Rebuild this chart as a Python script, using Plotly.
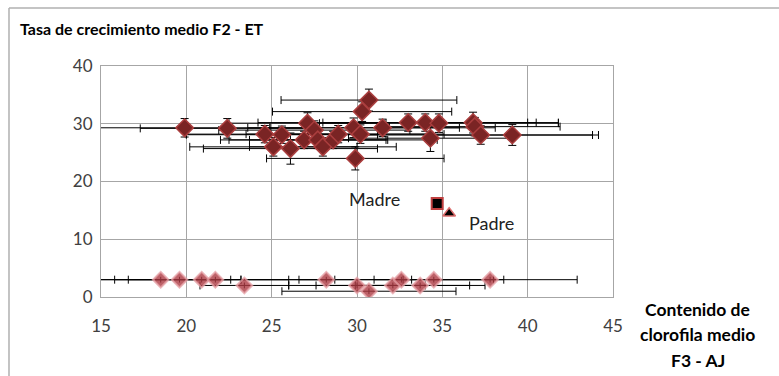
import plotly.graph_objects as go

# Upper group: growth rate vs chlorophyll content, with standard deviations
upper_x = [19.9, 22.4, 24.6, 25.6, 25.1, 26.1, 27.1, 27.5, 26.9, 27.7, 28.0, 28.6, 28.9,
           29.8, 30.2, 29.9, 30.3, 30.7, 31.5, 33.0, 34.0, 34.8, 34.3, 36.8, 36.9, 37.25, 39.1]
upper_y = [29.3, 29.2, 28.2, 28.1, 26.0, 25.7, 30.1, 28.9, 27.2, 27.2, 26.0, 27.2, 28.2,
           29.3, 28.2, 24.0, 32.1, 34.1, 29.3, 30.2, 30.2, 30.1, 27.5, 30.2, 29.5, 28.05, 28.05]
upper_ex = [5.0, 5.1, 4.6, 5.6, 4.9, 5.1, 4.6, 5.6, 4.9, 4.0, 4.3, 6.1, 5.4,
            6.2, 4.9, 5.2, 5.25, 5.15, 6.6, 8.8, 6.0, 7.0, 4.8, 3.7, 5.0, 6.9, 4.7]
upper_ey = [1.6, 1.7, 1.5, 1.5, 1.6, 2.7, 1.8, 1.6, 1.5, 1.5, 1.6, 1.5, 1.5,
            1.7, 1.6, 2.0, 1.7, 1.9, 1.5, 1.5, 1.5, 1.6, 2.3, 1.8, 1.6, 1.6, 1.8]

# Lower group
lower_x = [18.5, 19.6, 20.9, 21.7, 23.4, 28.2, 30.0, 30.7, 32.1, 32.6, 33.7, 34.5, 37.8]
lower_y = [3.0, 3.0, 3.0, 3.0, 2.0, 3.0, 2.0, 1.0, 2.0, 3.0, 2.0, 3.0, 3.0]
lower_ex = [4.7, 3.0, 5.1, 7.0, 2.6, 5.0, 4.0, 5.1, 4.5, 6.0, 3.8, 3.5, 5.1]
lower_ey = [0.5] * 13

# Parents
parent_names = ["Madre", "Padre"]
parent_x = [34.7, 35.4]
parent_y = [16.2, 14.5]

FONT = "Lato"
GRID = "#A6A6A6"

fig = go.Figure()

fig.add_trace(go.Scatter(
    x=upper_x, y=upper_y, mode="markers",
    marker=dict(symbol="diamond", size=13.5, color="rgb(122,36,36)",
                line=dict(color="rgb(170,62,62)", width=1.5)),
    error_x=dict(type="data", array=upper_ex, color="black", thickness=1, width=4),
    error_y=dict(type="data", array=upper_ey, color="black", thickness=1, width=4),
    showlegend=False,
))

fig.add_trace(go.Scatter(
    x=lower_x, y=lower_y, mode="markers",
    marker=dict(symbol="diamond", size=12, color="rgba(172,58,66,0.8)",
                line=dict(color="rgba(230,160,165,0.75)", width=2)),
    error_x=dict(type="data", array=lower_ex, color="black", thickness=1, width=4),
    error_y=dict(type="data", array=lower_ey, color="black", thickness=1, width=0),
    showlegend=False,
))

fig.add_trace(go.Scatter(
    x=[parent_x[0]], y=[parent_y[0]], mode="markers",
    marker=dict(symbol="square", size=11, color="black",
                line=dict(color="rgb(192,64,64)", width=2)),
    showlegend=False,
))
fig.add_trace(go.Scatter(
    x=[parent_x[1]], y=[parent_y[1]], mode="markers",
    marker=dict(symbol="triangle-up", size=11, color="black",
                line=dict(color="rgb(220,110,110)", width=1.5)),
    showlegend=False,
))

# Parent labels
fig.add_annotation(x=31.0, y=16.9, text=parent_names[0], showarrow=False,
                   font=dict(family=FONT, size=18, color="#222222"))
fig.add_annotation(x=37.9, y=12.8, text=parent_names[1], showarrow=False,
                   font=dict(family=FONT, size=18, color="#222222"))

# Chart titles
fig.add_annotation(xref="paper", yref="paper", x=-0.162, y=1.1645,
                   xanchor="left", yanchor="middle", showarrow=False,
                   text="<b>Tasa de crecimiento medio F2 - ET</b>",
                   font=dict(family=FONT, size=16, color="black"))
for i, line in enumerate(["Contenido de", "clorofila medio", "F3 - AJ"]):
    fig.add_annotation(xref="paper", yref="paper", x=1.166,
                       y=(297 - (309 + 25.5 * i)) / 231,
                       xanchor="center", yanchor="middle", showarrow=False,
                       text=f"<b>{line}</b>",
                       font=dict(family=FONT, size=17.5, color="black"))

# Outer chart frame (left and top edges)
fig.add_shape(type="line", xref="paper", yref="paper",
              x0=-0.1797, x1=-0.1797, y0=-0.4, y1=1.251,
              line=dict(color="#B0B0B0", width=1.5))
fig.add_shape(type="line", xref="paper", yref="paper",
              x0=-0.1797, x1=1.4, y0=1.251, y1=1.251,
              line=dict(color="#B0B0B0", width=1.5))

fig.update_layout(
    width=779, height=376,
    margin=dict(l=101, r=166, t=66, b=79),
    paper_bgcolor="white", plot_bgcolor="white",
    font=dict(family=FONT),
    xaxis=dict(range=[15, 45], dtick=5, tick0=15, showgrid=True, gridcolor=GRID,
               showline=True, linecolor=GRID, mirror=True, zeroline=False,
               ticks="", ticklabelstandoff=14,
               tickfont=dict(family=FONT, size=17, color="#404040")),
    yaxis=dict(range=[0, 40], dtick=10, showgrid=True, gridcolor=GRID,
               showline=True, linecolor=GRID, mirror=True, zeroline=False,
               ticks="", ticklabelstandoff=4,
               tickfont=dict(family=FONT, size=17, color="#404040")),
)

fig.write_html("out.html")
